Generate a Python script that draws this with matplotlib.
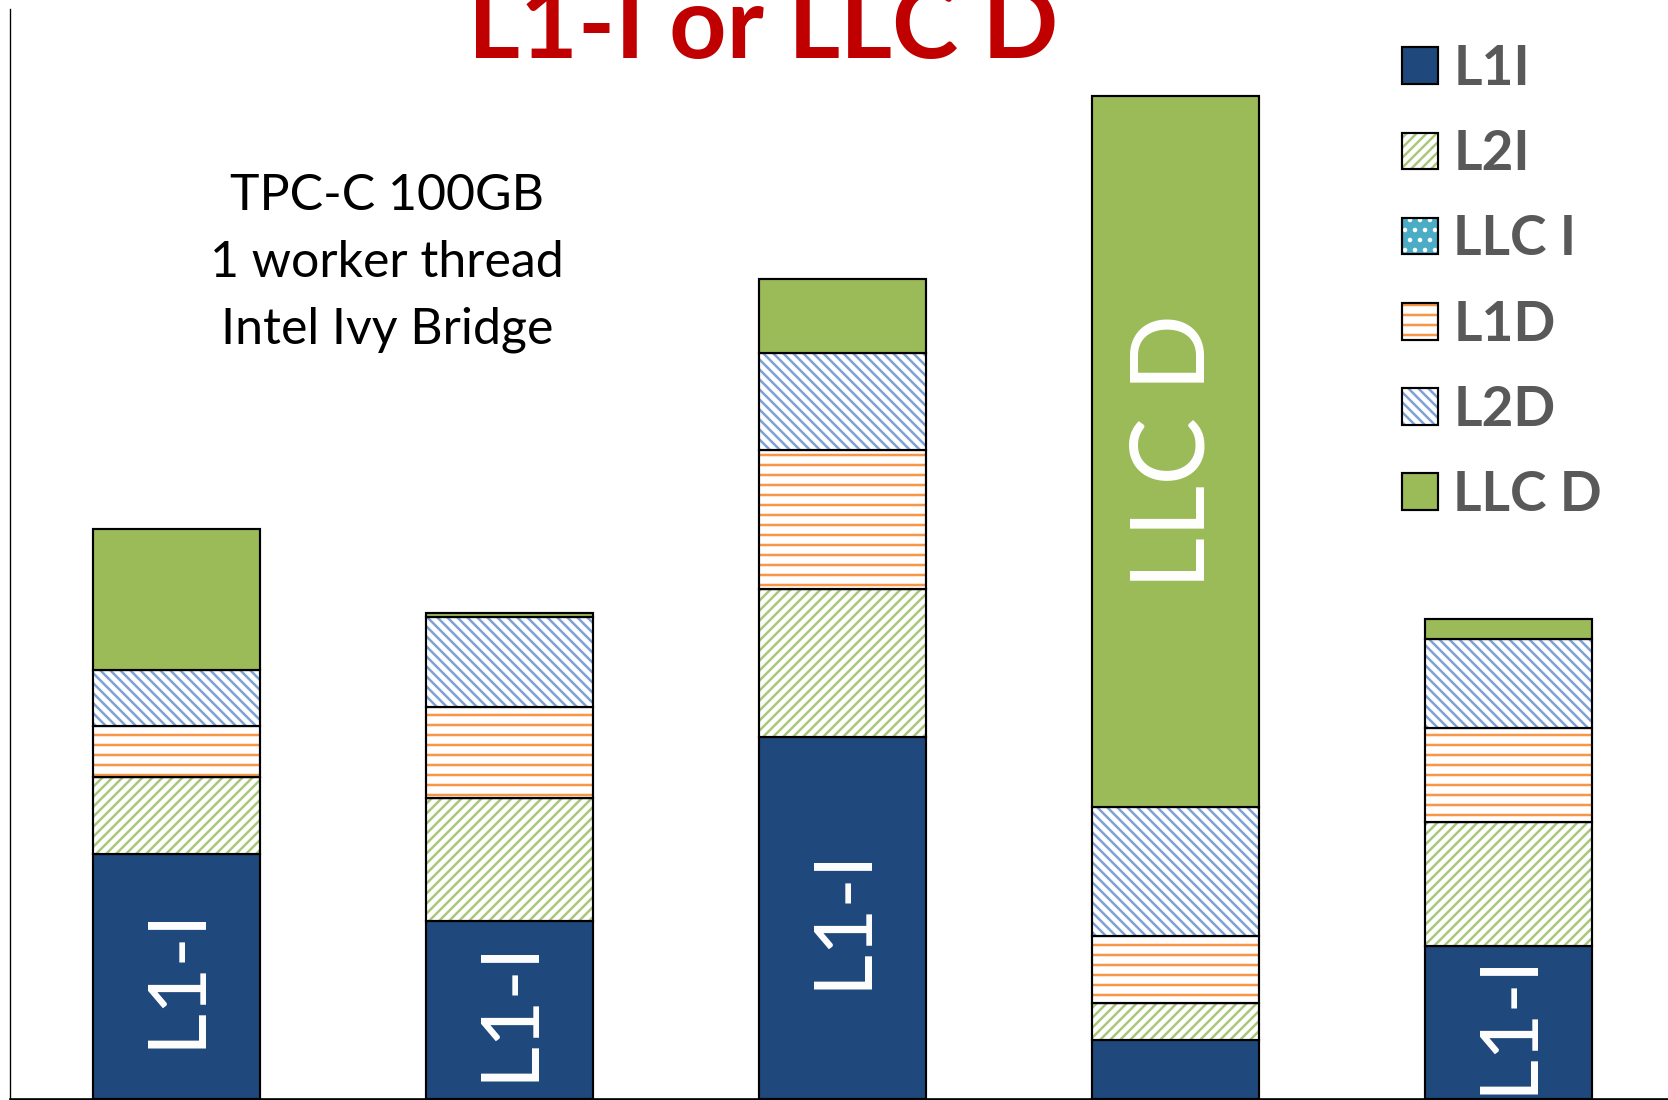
import matplotlib
matplotlib.use('Agg')
import matplotlib.pyplot as plt
from matplotlib.patches import Patch

plt.rcParams['font.family'] = ['Lato', 'DejaVu Sans']
plt.rcParams['hatch.linewidth'] = 1.5

# stall breakdown per run (arbitrary units)
runs = ['run 1', 'run 2', 'run 3', 'run 4', 'run 5']
series = ['L1I', 'L2I', 'LLC I', 'L1D', 'L2D', 'LLC D']
l1i = [245, 178, 362, 59, 153]
l2i = [77, 123, 148, 37, 124]
llci = [0, 0, 0, 0, 0]
l1d = [51, 91, 139, 67, 94]
l2d = [56, 90, 97, 129, 89]
llcd = [141, 4, 74, 711, 20]
values = [l1i, l2i, llci, l1d, l2d, llcd]
short_names = ['L1-I', 'L2-I', 'LLC I', 'L1-D', 'L2-D', 'LLC D']

title = 'L1-I or LLC D'
note = 'TPC-C 100GB\n1 worker thread\nIntel Ivy Bridge'

# (facecolor, hatch, hatch colour)
styles = [
    ('#1F497D', None, None),
    ('white', '////', '#A9C77A'),
    ('#4BACC6', '..', 'white'),
    ('white', '--', '#F79646'),
    ('white', '\\\\\\\\', '#7FA2D6'),
    ('#9BBB59', None, None),
]

W, H, DPI = 1668, 1100, 120
fig = plt.figure(figsize=(W / DPI, H / DPI), dpi=DPI)
ax = fig.add_axes([10 / W, 1 / H, 1665 / W, 1090 / H])

x = range(len(runs))
bottom = [0] * len(runs)
handles = []
for vals, (fc, hatch, hc) in zip(values, styles):
    if hatch:
        ax.bar(x, vals, 0.5, bottom=bottom, color=fc, hatch=hatch,
               edgecolor=hc, linewidth=0)
        ax.bar(x, vals, 0.5, bottom=bottom, fill=False,
               edgecolor='black', linewidth=1.3)
        handles.append((Patch(facecolor=fc, hatch=hatch, edgecolor=hc, linewidth=0),
                        Patch(fill=False, edgecolor='black', linewidth=1.3)))
    else:
        ax.bar(x, vals, 0.5, bottom=bottom, color=fc,
               edgecolor='black', linewidth=1.3)
        handles.append(Patch(facecolor=fc, edgecolor='black', linewidth=1.3))
    bottom = [b + v for b, v in zip(bottom, vals)]

# label the biggest segment of every bar
for i in x:
    segs = [v[i] for v in values]
    k = segs.index(max(segs))
    base = sum(segs[:k])
    size = 61 if k == 5 else 49
    ax.text(i, base + segs[k] / 2, short_names[k], rotation=90,
            ha='center', va='center', color='white', fontsize=size)

ax.set_xlim(-0.5, 4.5)
ax.set_ylim(0, 1090)
ax.set_xticks([])
ax.set_yticks([])
for s in ['top', 'right']:
    ax.spines[s].set_visible(False)
ax.spines['bottom'].set_linewidth(1.6)
ax.spines['left'].set_linewidth(0.8)

fig.text(763 / W, 1 - 58 / H, title, ha='center', va='baseline',
         color='#C00000', fontsize=60, fontweight='bold')
fig.text(387 / W, 1 - 263 / H, note, ha='center', va='center',
         fontsize=30, color='black', linespacing=1.55)

ax.legend(handles, series, loc='upper left',
          bbox_to_anchor=(1402 / W, 1 - 44 / H), bbox_transform=fig.transFigure,
          frameon=False, borderpad=0, borderaxespad=0,
          handlelength=0.65, handleheight=0.65, handletextpad=0.28,
          labelspacing=0.64, labelcolor='#595959',
          prop={'size': 33, 'weight': 'bold'})

fig.savefig('out.png', dpi=DPI)
